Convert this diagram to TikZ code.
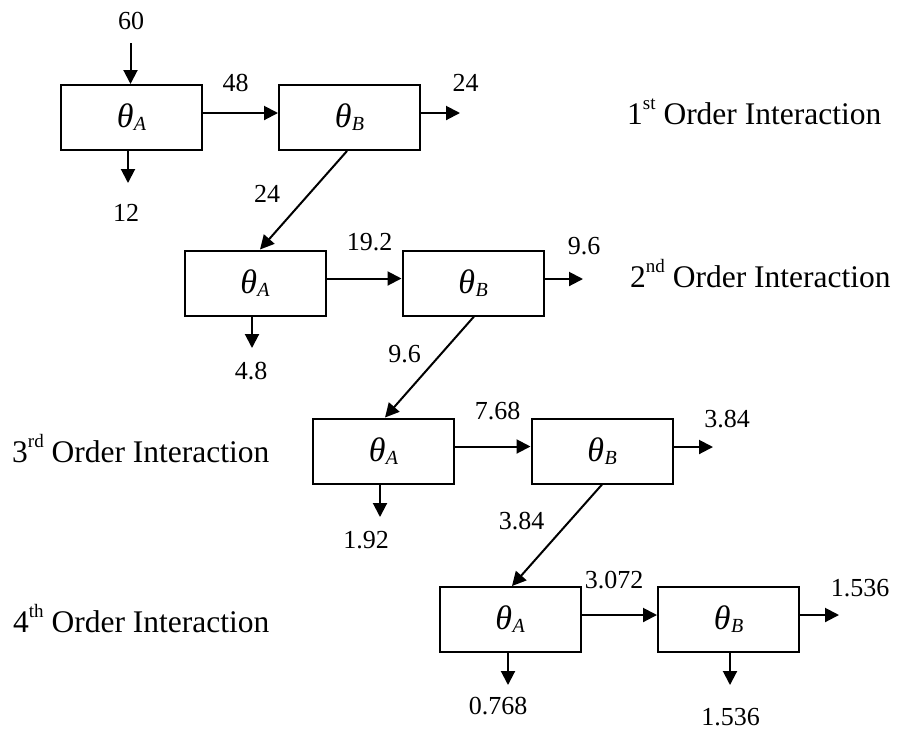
\documentclass[tikz,border=0pt]{standalone}
\usepackage{fontspec}
\setmainfont{Liberation Serif}
\usetikzlibrary{arrows.meta}

% theta with a lowered italic subscript
\newcommand\thsub[1]{{\itshape θ\kern0.5pt\raisebox{-3pt}{\fontsize{20}{20}\selectfont #1}}}
\newcommand\ordlab[2]{#1\raisebox{0.45em}{\fontsize{19}{19}\selectfont #2} Order Interaction}

\begin{document}
\begin{tikzpicture}[x=1pt,y=-1pt,
  box/.style={draw, line width=2pt, minimum width=141pt, minimum height=65pt,
              inner sep=0pt, font=\fontsize{34}{34}\selectfont},
  num/.style={font=\fontsize{26}{26}\selectfont, inner sep=0pt},
  lab/.style={font=\fontsize{31.5}{31.5}\selectfont, inner sep=0pt, anchor=base west},
  flow/.style={line width=2pt, -{Triangle[length=14pt,width=14pt]}}]
\useasboundingbox (0,0) rectangle (901,732);

% blocks
\node[box] (A1) at (131.5,117.5) {\thsub{A}};
\node[box] (B1) at (349.5,117.5) {\thsub{B}};
\node[box] (A2) at (255,283) {\thsub{A}};
\node[box] (B2) at (473,283) {\thsub{B}};
\node[box] (A3) at (383.5,451) {\thsub{A}};
\node[box] (B3) at (602,451) {\thsub{B}};
\node[box] (A4) at (510,619.5) {\thsub{A}};
\node[box] (B4) at (728.5,619.5) {\thsub{B}};

% row titles
\node[lab] (L1) at (627,124) {\ordlab{1}{st}};
\node[lab] (L2) at (630,287) {\ordlab{2}{nd}};
\node[lab] (L3) at (12,462) {\ordlab{3}{rd}};
\node[lab] (L4) at (13,632) {\ordlab{4}{th}};

% free ends of the connectors
\coordinate (s0) at (130.5,43);
\coordinate (d1) at (128,183);
\coordinate (d2) at (252,348);
\coordinate (d3) at (380,517);
\coordinate (d4) at (508,685);
\coordinate (d5) at (730,685);
\coordinate (o1) at (460,113);
\coordinate (o2) at (583,279);
\coordinate (o3) at (713,447);
\coordinate (o4) at (839,615);

% input
\draw[flow] (s0) -- (s0 |- A1.north);

% A -> B within each order
\draw[flow] ([yshift=4.5pt]A1.east) -- ([yshift=4.5pt]B1.west);
\draw[flow] ([yshift=4.5pt]A2.east) -- ([yshift=4.5pt]B2.west);
\draw[flow] ([yshift=4.5pt]A3.east) -- ([yshift=4.5pt]B3.west);
\draw[flow] ([yshift=4.5pt]A4.east) -- ([yshift=4.5pt]B4.west);

% B outputs to the right
\draw[flow] (o1 -| B1.east) -- (o1);
\draw[flow] (o2 -| B2.east) -- (o2);
\draw[flow] (o3 -| B3.east) -- (o3);
\draw[flow] (o4 -| B4.east) -- (o4);

% A outputs downward
\draw[flow] (d1 |- A1.south) -- (d1);
\draw[flow] (d2 |- A2.south) -- (d2);
\draw[flow] (d3 |- A3.south) -- (d3);
\draw[flow] (d4 |- A4.south) -- (d4);
\draw[flow] (d5 |- B4.south) -- (d5);

% B feeds the next order
\draw[flow] ([xshift=-2.5pt]B1.south) -- ([xshift=5pt]A2.north);
\draw[flow] ([xshift=1pt]B2.south) -- ([xshift=1.5pt]A3.north);
\draw[flow] (B3.south) -- ([xshift=2pt]A4.north);

% values
\node[num] (v60)  at (131,21)    {60};
\node[num] (v48)  at (235.5,83)  {48};
\node[num] (v24a) at (465.5,82.5) {24};
\node[num] (v12)  at (126,213)   {12};
\node[num] (v24b) at (267,194)   {24};
\node[num] (v192) at (369.5,242.5) {19.2};
\node[num] (v96a) at (584,246.5) {9.6};
\node[num] (v48b) at (251,371)   {4.8};
\node[num] (v96b) at (404.5,354) {9.6};
\node[num] (v768) at (497.5,411) {7.68};
\node[num] (v384a) at (727,419)  {3.84};
\node[num] (v192b) at (366,540.5) {1.92};
\node[num] (v384b) at (521.5,521.5) {3.84};
\node[num] (v3072) at (614,580)  {3.072};
\node[num] (v1536a) at (860,588.5) {1.536};
\node[num] (v0768) at (498,706.5) {0.768};
\node[num] (v1536b) at (730.5,717.5) {1.536};
\end{tikzpicture}
\end{document}
